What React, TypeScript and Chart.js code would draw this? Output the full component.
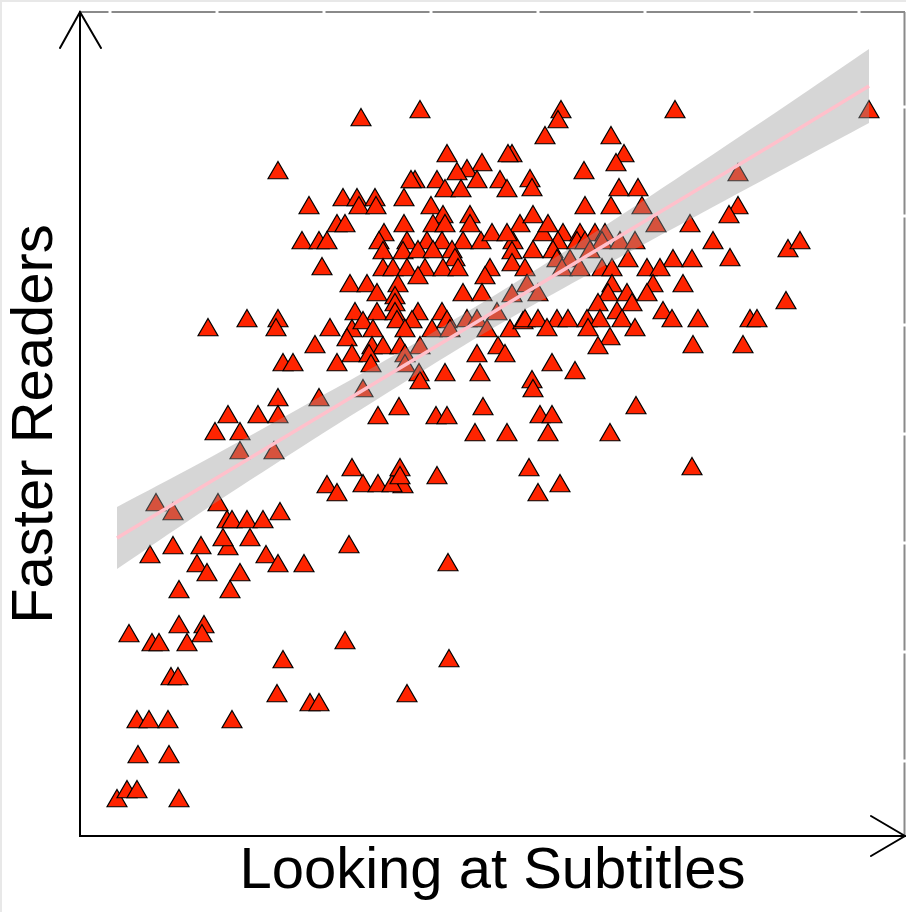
import React, { useEffect, useRef } from 'react';
import { Chart, registerables } from 'chart.js';

Chart.register(...registerables);

// Scores: x = looking at subtitles, y = faster readers (arbitrary units)
const lowerLeftCluster: [number, number][] = [
  [37, 38], [47, 47], [57, 47], [99, 38], [58, 82], [89, 82], [57, 117], [69, 117], [88, 117], [152, 117],
  [91, 160], [98, 160], [49, 203], [72, 194], [79, 194], [99, 212], [124, 212], [122, 203], [107, 194], [203, 177],
  [197, 143], [230, 134], [239, 134], [99, 247], [150, 247], [70, 282], [93, 291], [121, 291], [117, 273], [127, 264],
  [160, 264], [148, 290], [143, 299], [170, 299], [186, 282], [198, 273], [224, 273], [147, 317], [152, 317], [167, 317],
  [183, 317], [200, 325], [138, 334], [76, 334], [93, 325], [160, 386], [194, 386],
];

const leftMiddleCluster: [number, number][] = [
  [198, 666], [229, 631], [222, 596], [239, 596], [247, 596], [242, 570], [128, 509], [167, 518], [198, 518], [196, 509],
  [250, 509], [235, 492], [203, 474], [213, 474], [257, 474], [198, 439], [239, 439], [148, 422], [178, 422], [198, 422],
  [135, 405], [160, 405],
];

const lowerMiddleCluster: [number, number][] = [
  [247, 352], [323, 352], [269, 292], [368, 274], [265, 196], [369, 178], [327, 143], [272, 369], [283, 353], [298, 353],
  [312, 353], [320, 369], [320, 361], [357, 361], [257, 344], [449, 369], [612, 370], [480, 353], [458, 344],
];

const upperLeftCluster: [number, number][] = [
  [281, 719], [340, 727], [367, 683], [432, 683], [428, 683], [402, 674], [387, 668], [377, 665], [335, 657], [331, 657],
  [357, 657], [365, 648], [381, 648], [397, 657], [420, 657], [427, 648], [263, 639], [277, 639], [295, 639], [279, 631],
  [296, 631], [324, 639], [351, 631], [363, 622], [257, 613], [265, 613], [324, 613], [353, 613], [390, 622], [390, 613],
  [365, 613], [304, 604], [299, 596], [327, 596], [347, 596], [362, 596], [383, 596], [401, 596], [412, 604], [433, 596],
  [440, 613], [427, 604], [303, 586], [323, 586], [338, 587], [353, 587], [372, 587], [375, 579], [432, 586], [303, 569],
  [313, 569], [327, 569], [345, 569], [363, 569], [378, 569], [410, 569], [432, 574], [338, 561], [318, 553], [270, 553],
  [287, 553], [405, 561], [383, 544], [402, 544], [297, 544], [315, 541],
];

const upperRightCluster: [number, number][] = [
  [481, 727], [478, 717], [595, 727], [465, 701], [531, 701], [544, 683], [536, 674], [504, 666], [450, 658], [452, 649],
  [539, 649], [558, 649], [505, 631], [531, 631], [562, 631], [576, 613], [610, 613], [633, 596], [453, 622], [463, 604],
  [468, 613], [483, 604], [500, 604], [515, 604], [525, 604], [478, 596], [497, 596], [505, 596], [522, 596], [540, 596],
  [555, 596], [453, 587], [473, 587], [510, 587], [548, 578], [593, 578], [612, 578], [477, 578], [490, 578], [445, 569],
  [482, 569], [500, 569], [522, 569], [532, 569], [567, 569], [580, 569], [573, 553], [603, 553], [532, 553], [447, 553],
  [458, 544], [528, 544], [547, 544], [567, 544],
];

const centreCluster: [number, number][] = [
  [275, 525], [297, 525], [315, 534], [315, 525], [338, 525], [362, 525], [387, 518], [397, 518], [417, 525], [432, 543],
  [272, 508], [283, 516], [293, 508], [317, 517], [332, 517], [325, 508], [352, 508], [367, 517], [370, 508], [407, 508],
  [430, 508], [443, 516], [267, 499], [292, 491], [303, 491], [320, 491], [340, 491], [418, 491], [272, 483], [289, 483],
  [325, 483], [397, 483], [425, 483], [291, 473], [325, 473], [339, 464], [365, 464], [400, 464], [340, 456], [283, 448],
  [298, 421], [319, 430], [356, 421], [367, 421], [403, 430], [395, 404], [427, 404],
];

const centreRightCluster: [number, number][] = [
  [518, 534], [537, 526], [552, 534], [583, 526], [592, 518], [618, 518], [445, 518], [458, 518], [477, 518], [488, 518],
  [507, 518], [520, 518], [542, 518], [467, 509], [508, 509], [530, 500], [555, 509], [518, 491], [613, 492], [472, 474],
  [495, 466], [452, 457], [453, 448], [556, 431], [460, 422], [472, 422], [468, 404], [530, 404],
];

const farRightCluster: [number, number][] = [
  [789, 727], [658, 664], [658, 631], [649, 622], [650, 579], [708, 588], [720, 596], [706, 536], [670, 518], [677, 518],
  [663, 492],
];

// Linear fit and its confidence band
const fitX = [37, 120, 220, 320, 370, 420, 520, 620, 720, 789];
const fitLine = [301, 351, 411, 471, 501, 531, 591, 651, 711, 753];
const bandUpper = [332, 376, 431, 487, 517, 547, 610, 676, 743, 790];
const bandLower = [270, 326, 391, 454, 485, 515, 571, 625, 679, 716];

const allPoints = [
  ...lowerLeftCluster,
  ...leftMiddleCluster,
  ...lowerMiddleCluster,
  ...upperLeftCluster,
  ...upperRightCluster,
  ...centreCluster,
  ...centreRightCluster,
  ...farRightCluster,
];

const FONT = "'Liberation Sans', Arial, Helvetica, sans-serif";

export default function App() {
  const ref = useRef<HTMLCanvasElement>(null);

  useEffect(() => {
    const canvas = ref.current;
    if (!canvas) return;

    const toXY = (ys: number[]) => fitX.map((x, i) => ({ x, y: ys[i] }));

    const decor = {
      id: 'decor',
      beforeDraw(chart: any) {
        const { ctx, width, height } = chart;
        ctx.save();
        ctx.fillStyle = '#ffffff';
        ctx.fillRect(0, 0, width, height);
        ctx.fillStyle = '#e8e8e8';
        ctx.fillRect(0, 0, width, 2);
        ctx.fillRect(0, 0, 2, height);
        ctx.restore();
      },
      afterDraw(chart: any) {
        const { ctx, chartArea } = chart;
        const { left, right, top, bottom } = chartArea;
        ctx.save();
        // top and right panel border (grey, with small breaks)
        ctx.strokeStyle = '#8a8a8a';
        ctx.lineWidth = 2;
        const topGaps: number[] = [];
        for (let g = left + 30; g < right - 10; g += 107) topGaps.push(g);
        let sx = left;
        ctx.beginPath();
        for (const g of topGaps) {
          ctx.moveTo(sx, top);
          ctx.lineTo(g - 1.5, top);
          sx = g + 1.5;
        }
        ctx.moveTo(sx, top);
        ctx.lineTo(right, top);
        const rightGaps: number[] = [];
        for (let g = top + 95; g < bottom - 40; g += 109) rightGaps.push(g);
        let sy = top;
        for (const g of rightGaps) {
          ctx.moveTo(right - 0.5, sy);
          ctx.lineTo(right - 0.5, g - 1.5);
          sy = g + 1.5;
        }
        ctx.moveTo(right - 0.5, sy);
        ctx.lineTo(right - 0.5, bottom);
        ctx.stroke();

        // arrow heads
        ctx.strokeStyle = '#000000';
        ctx.lineWidth = 2;
        ctx.lineCap = 'round';
        ctx.beginPath();
        ctx.moveTo(left - 20, top + 36);
        ctx.lineTo(left, top);
        ctx.lineTo(left + 21, top + 36);
        ctx.moveTo(right - 34, bottom - 20);
        ctx.lineTo(right, bottom);
        ctx.lineTo(right - 34, bottom + 20);
        ctx.stroke();
        ctx.restore();
      },
    };

    const chart = new Chart(canvas, {
      type: 'scatter',
      data: {
        datasets: [
          {
            type: 'line',
            label: 'fit',
            data: toXY(fitLine),
            borderColor: '#ffc0cb',
            borderWidth: 3.5,
            pointRadius: 0,
            fill: false,
            tension: 0,
            order: 0,
          } as any,
          {
            type: 'line',
            label: 'upper',
            data: toXY(bandUpper),
            borderWidth: 0,
            borderColor: 'rgba(0,0,0,0)',
            backgroundColor: 'rgba(153,153,153,0.4)',
            pointRadius: 0,
            fill: '+1',
            tension: 0.35,
            order: 1,
          } as any,
          {
            type: 'line',
            label: 'lower',
            data: toXY(bandLower),
            borderWidth: 0,
            borderColor: 'rgba(0,0,0,0)',
            pointRadius: 0,
            fill: false,
            tension: 0.35,
            order: 1,
          } as any,
          {
            type: 'scatter',
            label: 'readers',
            data: allPoints.map(([x, y]) => ({ x, y })),
            pointStyle: 'triangle',
            pointRadius: 11.5,
            pointBackgroundColor: '#ff2400',
            pointBorderColor: '#000000',
            pointBorderWidth: 1.2,
            order: 2,
          } as any,
        ],
      },
      options: {
        responsive: false,
        animation: false,
        events: [],
        layout: { autoPadding: false, padding: { top: 12, right: 1, left: 0, bottom: 0 } },
        plugins: {
          legend: { display: false },
          tooltip: { enabled: false },
          title: { display: false },
        },
        scales: {
          x: {
            type: 'linear',
            min: 0,
            max: 825,
            grid: { display: false },
            ticks: { display: false },
            border: { display: true, color: '#000000', width: 2 },
            title: {
              display: true,
              text: 'Looking at Subtitles',
              color: '#000000',
              font: { family: FONT, size: 58, weight: 'normal' },
              padding: { top: 0, bottom: 5 },
            },
            afterFit: (scale: any) => {
              scale.height = 76;
            },
          },
          y: {
            type: 'linear',
            min: 3,
            max: 827,
            grid: { display: false },
            ticks: { display: false },
            border: { display: true, color: '#000000', width: 2 },
            title: {
              display: true,
              text: 'Faster Readers',
              color: '#000000',
              font: { family: FONT, size: 58, weight: 'normal' },
              padding: { top: 1, bottom: 0 },
            },
            afterFit: (scale: any) => {
              scale.width = 80;
            },
          },
        },
      } as any,
      plugins: [decor],
    });

    return () => chart.destroy();
  }, []);

  return (
    <canvas
      ref={ref}
      width={906}
      height={912}
      style={{ position: 'fixed', left: 0, top: 0, display: 'block' }}
    />
  );
}
